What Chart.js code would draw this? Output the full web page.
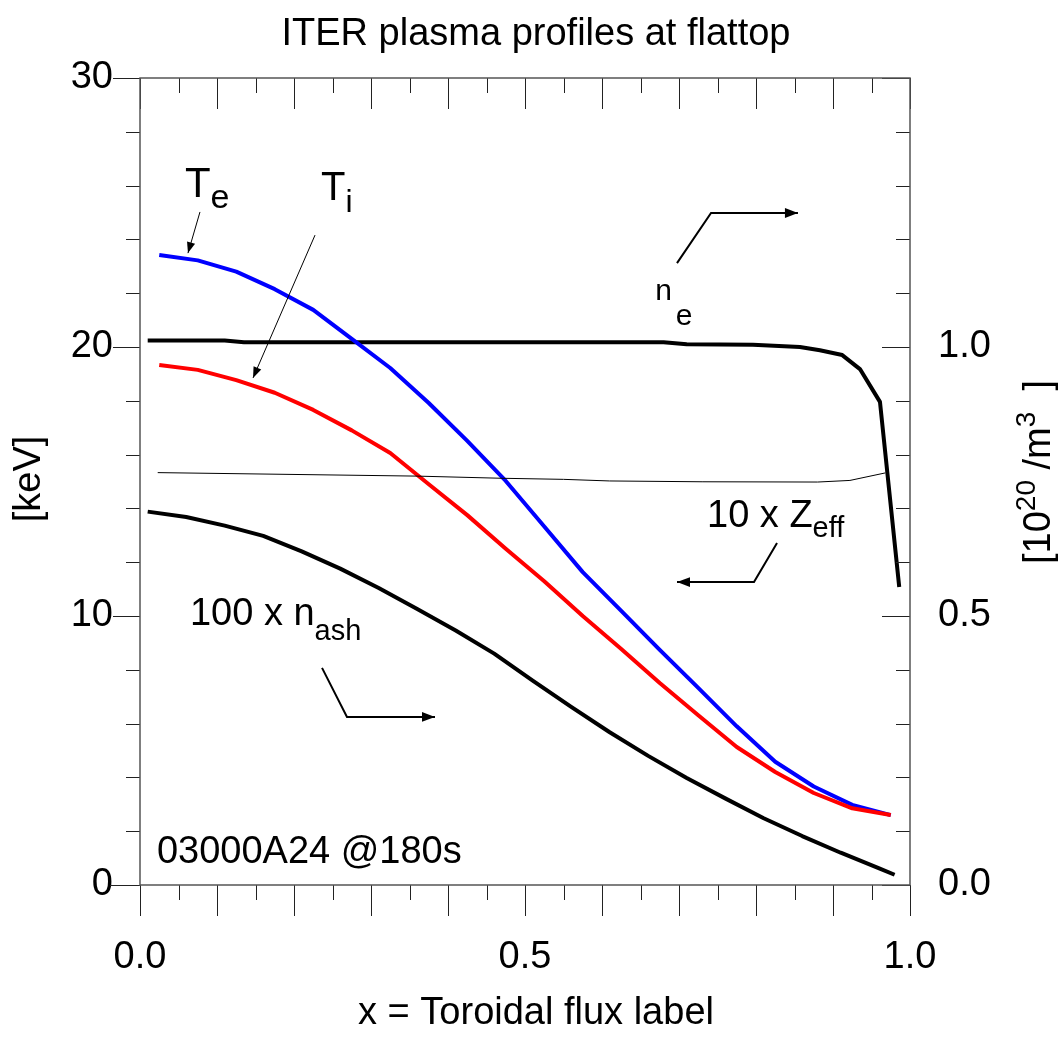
<!DOCTYPE html>
<html>
<head>
<meta charset="utf-8">
<title>ITER plasma profiles at flattop</title>
<script src="https://cdn.jsdelivr.net/npm/chart.js@4.4.1/dist/chart.umd.min.js"></script>
<style>
  html, body { margin: 0; padding: 0; background: #fff; }
  canvas { display: block; }
</style>
</head>
<body>
<canvas id="perfis" width="1063" height="1050"></canvas>
<script>
const FONT = "'Liberation Sans', Arial, Helvetica, sans-serif";

// Te / Ti grid (toroidal flux label)
const rhoT = [0.025, 0.075, 0.125, 0.175, 0.225, 0.275, 0.325, 0.375, 0.425, 0.475,
              0.525, 0.575, 0.625, 0.675, 0.725, 0.775, 0.825, 0.875, 0.925, 0.975];
const te = [23.42, 23.22, 22.80, 22.15, 21.38, 20.30, 19.22, 17.92, 16.51, 15.02,
            13.33, 11.63, 10.19, 8.74, 7.33, 5.90, 4.58, 3.66, 2.98, 2.60];
const ti = [19.33, 19.15, 18.77, 18.30, 17.66, 16.90, 16.06, 14.90, 13.75, 12.50,
            11.29, 10.00, 8.77, 7.51, 6.31, 5.13, 4.20, 3.42, 2.85, 2.60];

// electron density [1e20 /m3]
const rhoNe = [0.01, 0.11, 0.135, 0.68, 0.71, 0.796, 0.857, 0.883, 0.912, 0.935, 0.961, 0.986];
const ne = [1.012, 1.012, 1.009, 1.009, 1.005, 1.004, 1.000, 0.994, 0.985, 0.959, 0.898, 0.554];

// 100 x n_ash [1e20 /m3]
const rhoAsh = [0.01, 0.06, 0.11, 0.16, 0.21, 0.26, 0.31, 0.36, 0.41, 0.46, 0.51,
                0.56, 0.61, 0.66, 0.71, 0.76, 0.81, 0.86, 0.91, 0.96, 0.98];
const nAsh100 = [0.694, 0.684, 0.668, 0.649, 0.620, 0.588, 0.552, 0.513, 0.473, 0.430, 0.380,
                 0.331, 0.284, 0.240, 0.199, 0.161, 0.124, 0.091, 0.060, 0.031, 0.019];

// Zeff (drawn as 10 x Zeff on the keV axis)
const rhoZ = [0.023, 0.36, 0.47, 0.55, 0.61, 0.73, 0.88, 0.922, 0.968];
const zeff = [1.533, 1.520, 1.512, 1.508, 1.502, 1.499, 1.498, 1.504, 1.532];
const ZEFF_SCALE = 10;

const xTicks = [0, 0.5, 1.0];
const keVTicks = [0, 10, 20, 30];
const neTicks = [0, 0.5, 1.0];

const pts = (xs, ys, k = 1) => xs.map((x, i) => ({ x, y: ys[i] * k }));

function richWidth(ctx, segs) {
  let w = 0;
  segs.forEach(s => {
    ctx.font = `${s.size}px ${FONT}`;
    w += (s.dx || 0) + ctx.measureText(s.t).width;
  });
  return w;
}

function richText(ctx, x, y, segs) {
  let cx = x;
  segs.forEach(s => {
    ctx.font = `${s.size}px ${FONT}`;
    cx += s.dx || 0;
    ctx.fillText(s.t, cx, y + (s.dy || 0));
    cx += ctx.measureText(s.t).width;
  });
}

function arrow(ctx, p, lw, head) {
  ctx.lineWidth = lw;
  ctx.beginPath();
  p.forEach((q, i) => i ? ctx.lineTo(q[0], q[1]) : ctx.moveTo(q[0], q[1]));
  ctx.stroke();
  const [x1, y1] = p[p.length - 2];
  const [x2, y2] = p[p.length - 1];
  const a = Math.atan2(y2 - y1, x2 - x1);
  const w = head * 0.38;
  ctx.beginPath();
  ctx.moveTo(x2, y2);
  ctx.lineTo(x2 - head * Math.cos(a) + w * Math.sin(a), y2 - head * Math.sin(a) - w * Math.cos(a));
  ctx.lineTo(x2 - head * Math.cos(a) - w * Math.sin(a), y2 - head * Math.sin(a) + w * Math.cos(a));
  ctx.closePath();
  ctx.fill();
}

// labels and arrows, placed in data units (x, keV)
const labels = [
  { x: 0.0584, y: 25.58, segs: [{ t: 'T', size: 42 }, { t: 'e', size: 34, dy: 11 }] },
  { x: 0.235, y: 25.46, segs: [{ t: 'T', size: 40 }, { t: 'i', size: 32, dy: 12 }] },
  { x: 0.669, y: 21.75, segs: [{ t: 'n', size: 30 }, { t: 'e', size: 30, dx: 4, dy: 25 }] },
  { x: 0.7364, y: 13.31, segs: [{ t: '10 x Z', size: 38 }, { t: 'eff', size: 29, dy: 10 }] },
  { x: 0.0649, y: 9.67, segs: [{ t: '100 x n', size: 38 }, { t: 'ash', size: 29, dy: 15 }] },
  { x: 0.022, y: 0.82, segs: [{ t: '03000A24 @180s', size: 38 }] }
];
const arrows = [
  { lw: 1, head: 11, p: [[0.0779, 25.02], [0.0623, 23.49]] },
  { lw: 1, head: 11, p: [[0.2273, 24.16], [0.1468, 18.85]] },
  { lw: 2, head: 13, p: [[0.6974, 23.12], [0.7416, 24.98], [0.8545, 24.98]] },
  { lw: 2, head: 13, p: [[0.8273, 12.71], [0.7974, 11.26], [0.6974, 11.26]] },
  { lw: 2, head: 13, p: [[0.2364, 8.07], [0.2688, 6.25], [0.3831, 6.25]] }
];

const framePlugin = {
  id: 'frame',
  afterDraw(chart) {
    const { ctx, chartArea: a } = chart;
    const sx = chart.scales.x, sy = chart.scales.y, sy2 = chart.scales.y2;
    ctx.save();

    // ticks
    ctx.strokeStyle = '#222';
    ctx.lineWidth = 1;
    ctx.beginPath();
    for (let i = 0; i <= 20; i++) {
      const px = Math.round(sx.getPixelForValue(i / 20)) + 0.5;
      const len = i % 2 === 0 ? 31 : 15;
      ctx.moveTo(px, a.bottom); ctx.lineTo(px, a.bottom + len);
      ctx.moveTo(px, a.top); ctx.lineTo(px, a.top + len);
    }
    for (let v = 0; v <= 30; v += 2) {
      const py = Math.round(sy.getPixelForValue(v)) + 0.5;
      const len = v % 10 === 0 ? (v === 0 ? 30 : 27) : 14;
      ctx.moveTo(a.left, py); ctx.lineTo(a.left - len, py);
    }
    for (let i = 0; i <= 15; i++) {
      const py = Math.round(sy2.getPixelForValue(i / 10)) + 0.5;
      const len = i % 5 === 0 ? 28 : 14;
      ctx.moveTo(a.right, py); ctx.lineTo(a.right - len, py);
    }
    ctx.stroke();

    // box
    ctx.strokeStyle = '#555';
    ctx.lineWidth = 1.5;
    ctx.strokeRect(a.left, a.top, a.right - a.left, a.bottom - a.top);

    // annotations
    ctx.fillStyle = '#000';
    ctx.strokeStyle = '#000';
    ctx.textBaseline = 'alphabetic';
    ctx.textAlign = 'left';
    labels.forEach(l => richText(ctx, sx.getPixelForValue(l.x), sy.getPixelForValue(l.y), l.segs));
    arrows.forEach(ar => arrow(ctx,
      ar.p.map(q => [sx.getPixelForValue(q[0]), sy.getPixelForValue(q[1])]), ar.lw, ar.head));

    // titles
    ctx.textAlign = 'center';
    ctx.font = `38px ${FONT}`;
    ctx.fillText('ITER plasma profiles at flattop', 536, 45);
    ctx.fillText('x = Toroidal flux label', 536, 1024);

    ctx.save();
    ctx.translate(40, 479);
    ctx.rotate(-Math.PI / 2);
    ctx.fillText('[keV]', 0, 0);
    ctx.restore();

    const unit = [
      { t: '[10', size: 38 }, { t: '20', size: 28, dy: -15 },
      { t: ' /m', size: 38 }, { t: '3', size: 28, dy: -15 }, { t: '  ]', size: 38 }
    ];
    ctx.save();
    ctx.translate(1050, 472);
    ctx.rotate(-Math.PI / 2);
    ctx.textAlign = 'left';
    richText(ctx, -richWidth(ctx, unit) / 2, 0, unit);
    ctx.restore();

    ctx.restore();
  }
};

const tickFont = { family: FONT, size: 38 };

new Chart(document.getElementById('perfis'), {
  type: 'line',
  data: {
    datasets: [
      { data: pts(rhoZ, zeff, ZEFF_SCALE), borderColor: '#000', borderWidth: 1, yAxisID: 'y' },
      { data: pts(rhoAsh, nAsh100), borderColor: '#000', borderWidth: 4, yAxisID: 'y2' },
      { data: pts(rhoT, ti), borderColor: '#ff0000', borderWidth: 4, yAxisID: 'y' },
      { data: pts(rhoT, te), borderColor: '#0000ff', borderWidth: 4, yAxisID: 'y' },
      { data: pts(rhoNe, ne), borderColor: '#000', borderWidth: 4, yAxisID: 'y2' }
    ]
  },
  options: {
    responsive: false,
    animation: false,
    layout: { padding: { top: 78, left: 0, right: 0, bottom: 0 } },
    elements: {
      point: { radius: 0 },
      line: { tension: 0, borderJoinStyle: 'round', fill: false }
    },
    plugins: { legend: { display: false }, tooltip: { enabled: false }, title: { display: false } },
    scales: {
      x: {
        type: 'linear', position: 'bottom', min: 0, max: 1,
        grid: { display: false, drawTicks: false }, border: { display: false },
        afterBuildTicks: s => { s.ticks = xTicks.map(value => ({ value })); },
        ticks: { padding: 50, font: tickFont, color: '#000', maxRotation: 0, callback: v => v.toFixed(1) },
        afterFit: s => { s.height = 165; }
      },
      y: {
        position: 'left', min: 0, max: 30,
        grid: { display: false, drawTicks: false }, border: { display: false },
        afterBuildTicks: s => { s.ticks = keVTicks.map(value => ({ value })); },
        ticks: { padding: 27, font: tickFont, color: '#000', callback: v => String(v) },
        afterFit: s => { s.width = 140; }
      },
      y2: {
        position: 'right', min: 0, max: 1.5,
        grid: { display: false, drawTicks: false }, border: { display: false },
        afterBuildTicks: s => { s.ticks = neTicks.map(value => ({ value })); },
        ticks: { padding: 28, font: tickFont, color: '#000', callback: v => v.toFixed(1) },
        afterFit: s => { s.width = 153; }
      }
    }
  },
  plugins: [framePlugin]
});
</script>
</body>
</html>
